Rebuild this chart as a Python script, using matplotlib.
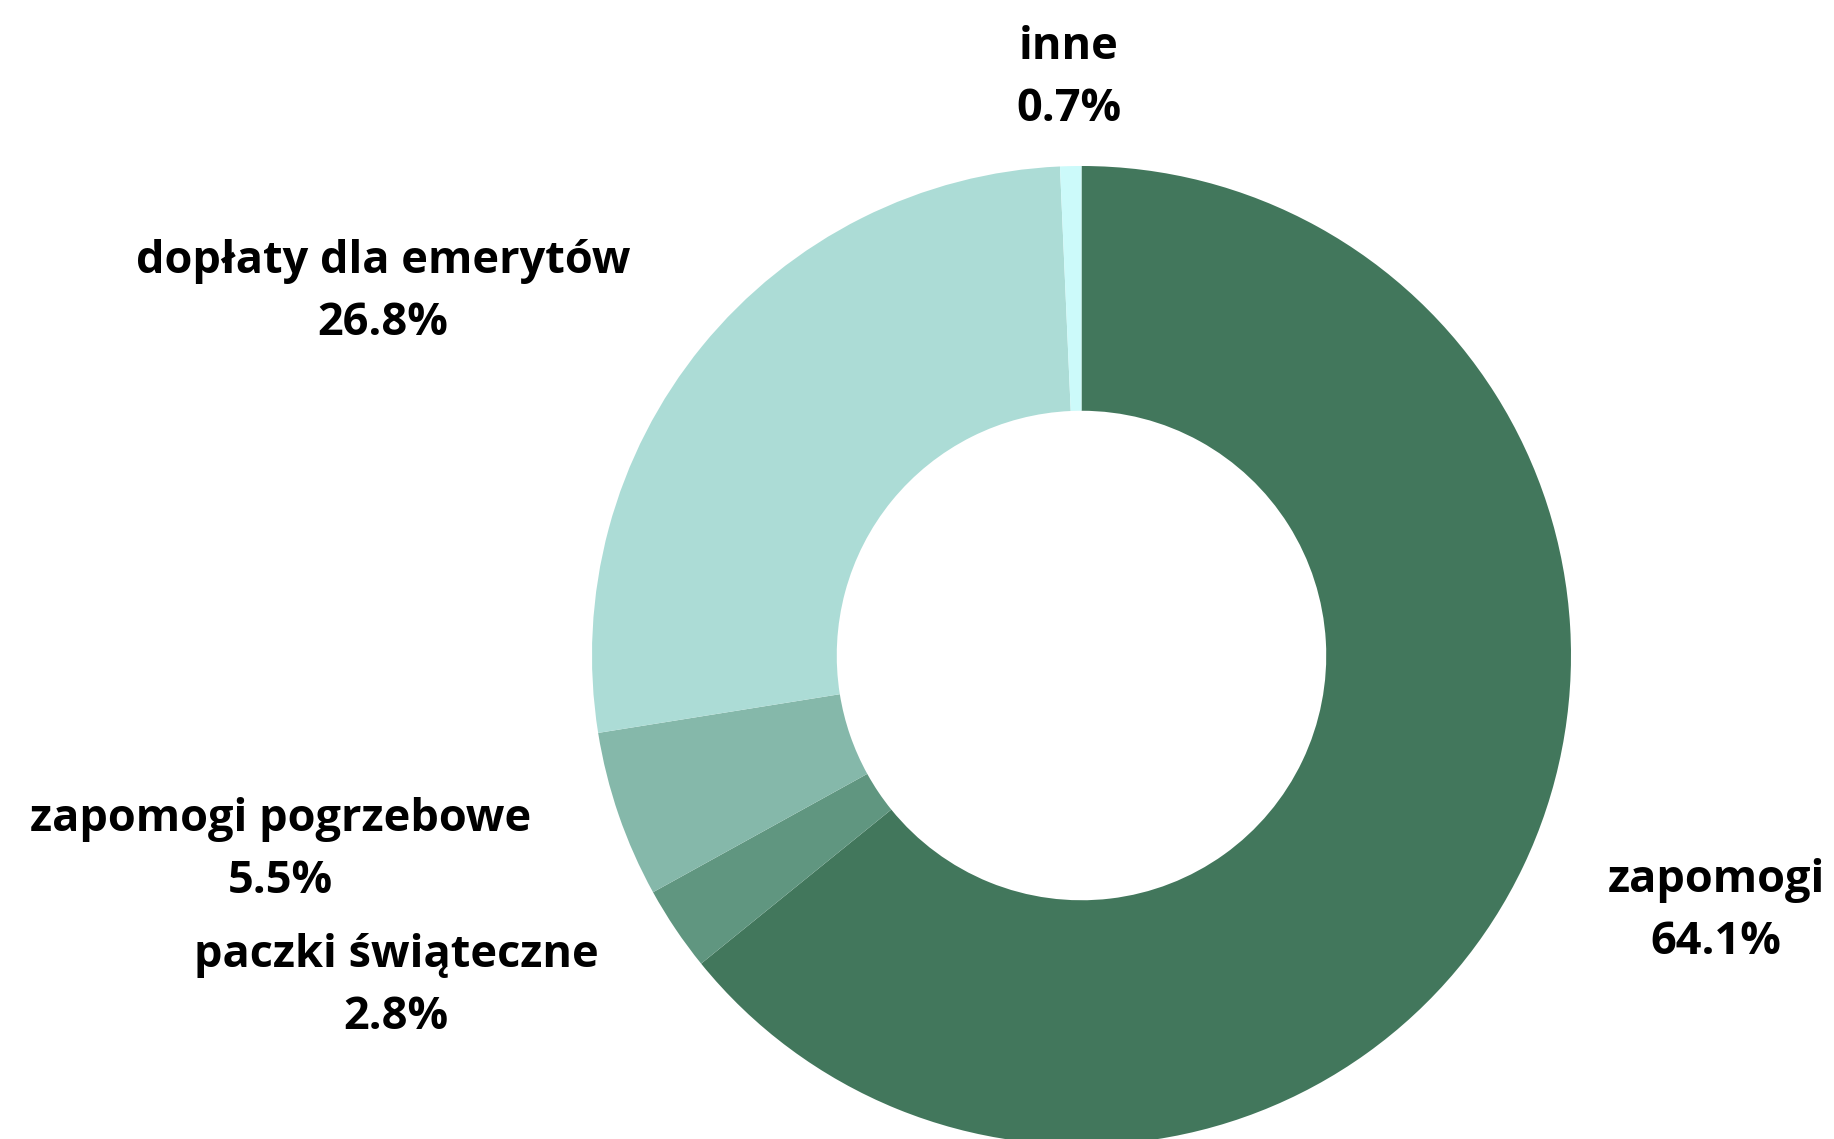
import matplotlib.pyplot as plt
from matplotlib.transforms import ScaledTranslation

plt.rcParams['font.family'] = ['Open Sans', 'DejaVu Sans']

# dane (kolejność zgodnie z ruchem wskazówek zegara od góry)
categories = ['zapomogi', 'paczki świąteczne', 'zapomogi pogrzebowe',
              'dopłaty dla emerytów', 'inne']
shares = [64.1, 2.8, 5.5, 26.8, 0.7]
colors = ['#42775c', '#609680', '#85b8aa', '#acdcd6', '#ccfafa']

labels = [f'{c}\n{v:.1f}%' for c, v in zip(categories, shares)]

fig = plt.figure(figsize=(18.34, 11.39), dpi=100)
ax = fig.add_axes([0, 0, 1, 1])

wedges, texts = ax.pie(shares, labels=labels, colors=colors, startangle=90,
                       counterclock=False, radius=1.0, labeldistance=1.19,
                       wedgeprops=dict(width=0.5, linewidth=0),
                       textprops=dict(fontsize=32.5, fontweight='bold',
                                      color='black', multialignment='center',
                                      linespacing=1.5))

# etykieta prawie pionowo nad wykresem - wyśrodkowana; lekkie przesunięcie w dół
shift = ScaledTranslation(0, -0.055, fig.dpi_scale_trans)
for t in texts:
    x, y = t.get_position()
    if abs(x) < 0.1:
        t.set_ha('center')
    t.set_transform(ax.transData + shift)

# rozmieszczenie pierścienia jak w oryginale (środek ~ (1082, 656) px, R ~ 490 px)
ax.set_aspect('auto')
ax.set_xlim(-2.2094, 1.5373)
ax.set_ylim(-0.9877, 1.3391)
ax.axis('off')

plt.savefig('out.png', dpi=100)
